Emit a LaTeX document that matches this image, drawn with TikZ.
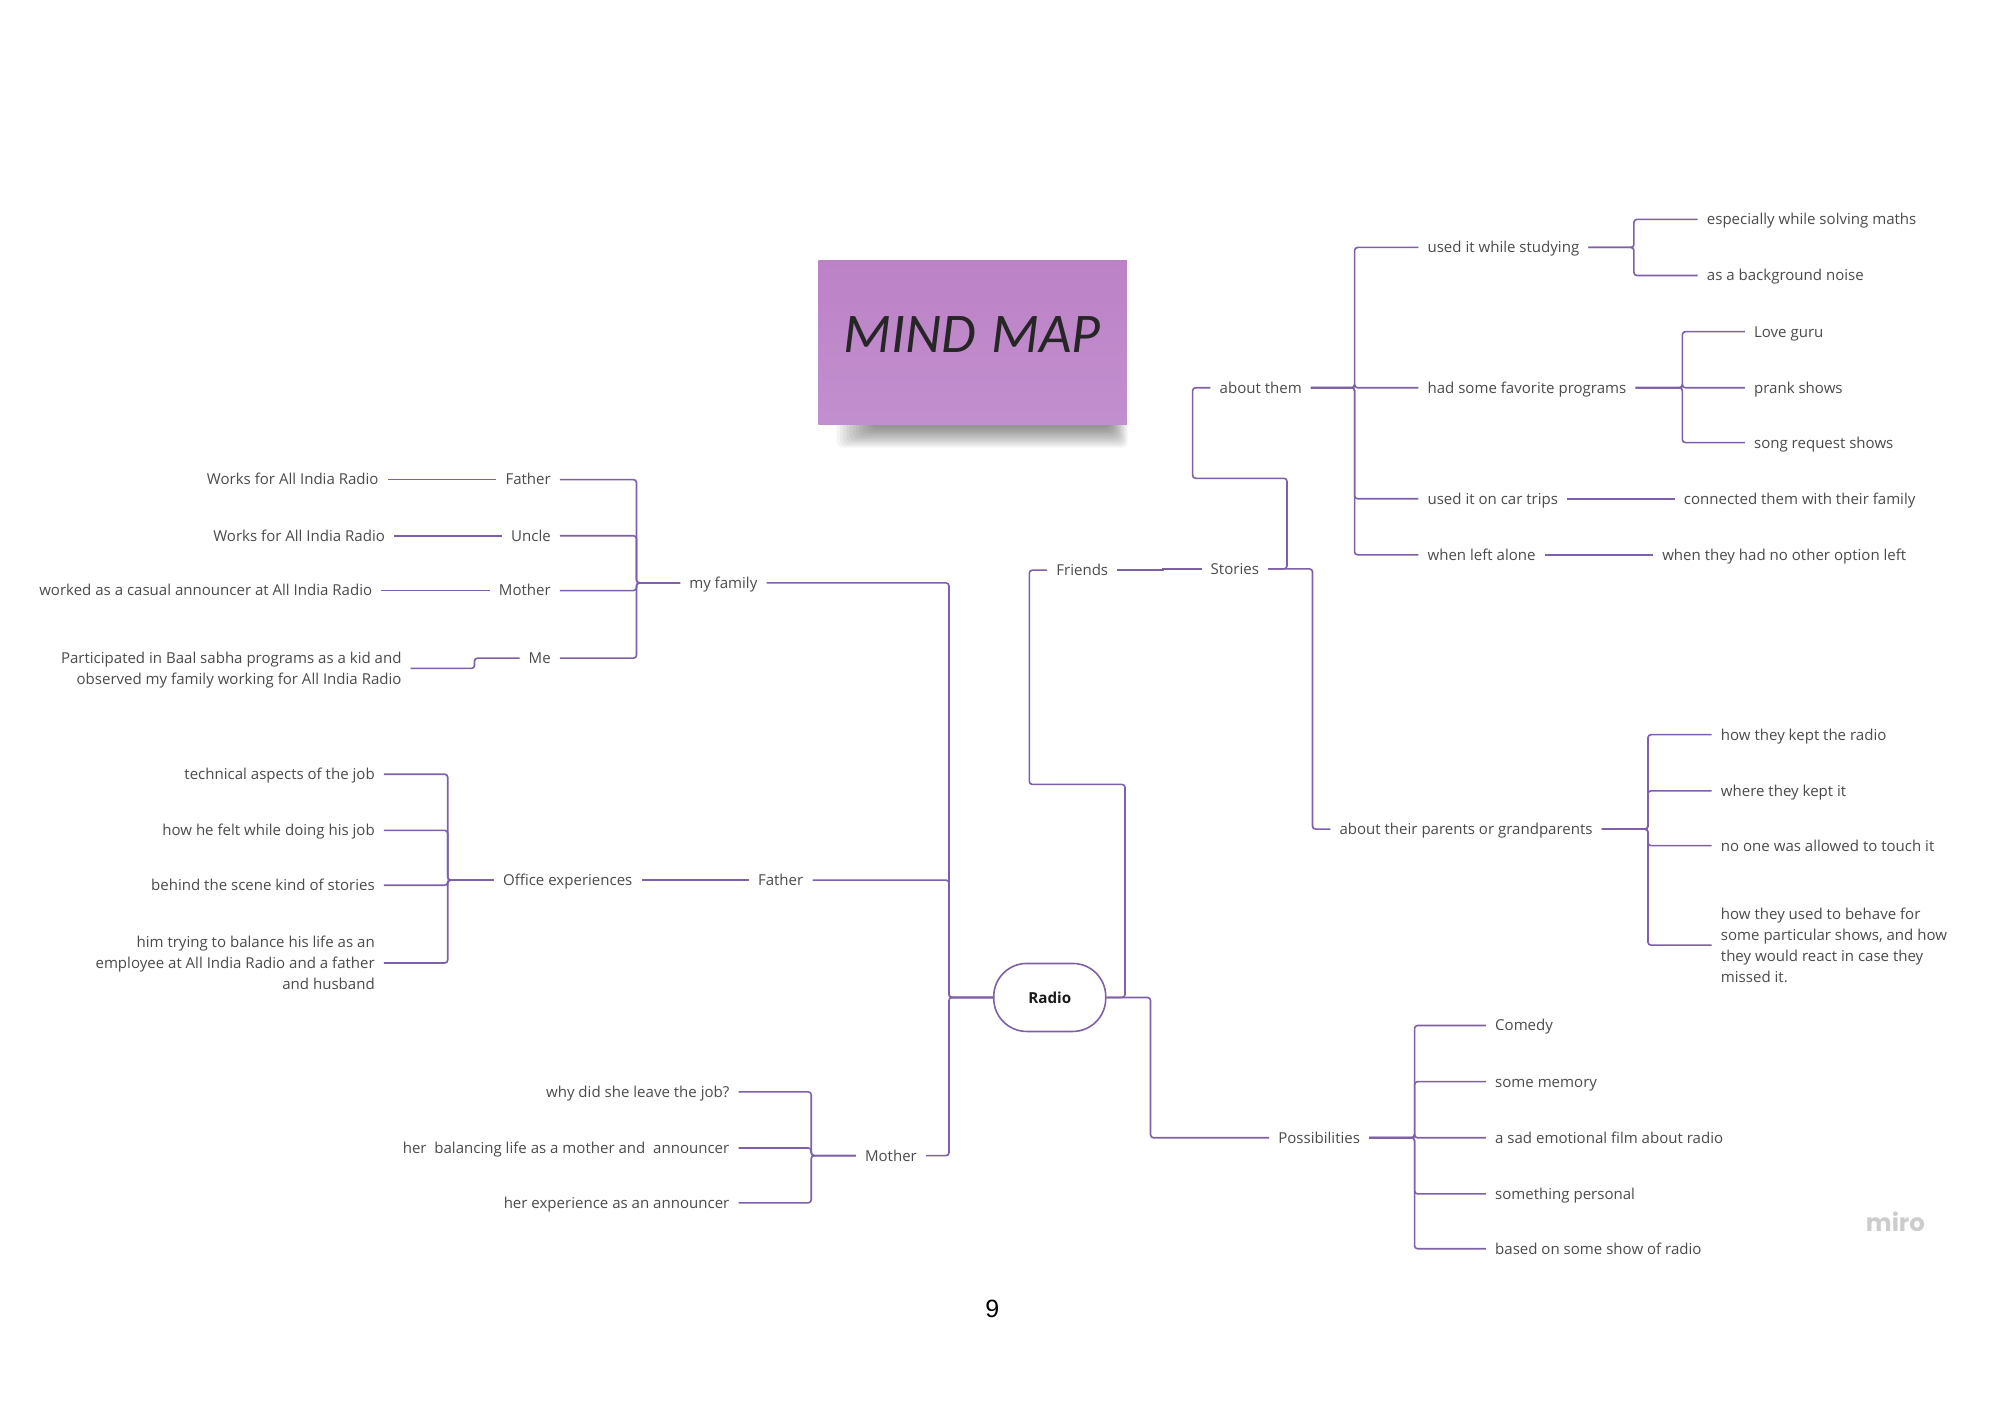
\documentclass[tikz,border=0pt]{standalone}
\usepackage{fontspec}
\setmainfont{Open Sans}
\newfontfamily\pagefont{Liberation Sans}
\newfontfamily\logofont{Poppins}
\newfontfamily\notefont{Carlito}
\definecolor{linkcol}{HTML}{7E60A8}
\definecolor{textcol}{HTML}{4A4A4A}
\definecolor{notetop}{HTML}{BC82C6}
\definecolor{notebot}{HTML}{C28FCE}
\tikzset{
  rgt/.style={anchor=west,inner xsep=4.4pt,inner ysep=1pt,text=textcol,font=\fontsize{7.52}{10.5}\selectfont,text height=7pt,text depth=1.6pt},
  lft/.style={rgt,anchor=east},
  rgtblock/.style={anchor=west,inner xsep=4.4pt,inner ysep=1pt,text=textcol,font=\fontsize{7.52}{10.6}\selectfont,align=left},
  lftblock/.style={rgtblock,anchor=east,align=right},
  link/.style={draw=linkcol,line width=0.8pt,rounded corners=1.5pt}
}
\begin{document}
\begin{tikzpicture}[x=0.63776pt,y=-0.63776pt]
  \useasboundingbox (0,0) rectangle (1568,1110.2);

  \foreach \i in {0,...,11}
    \fill[black,opacity=0.045,rounded corners=3pt] ({656+\i*2.5},325) rectangle ({884-\i*1.2},{351-\i*1.4});
  \node (note) at (762.5,268.5) [minimum width=154.3pt,minimum height=82.3pt,inner sep=0pt,top color=notetop,bottom color=notebot] {};
  \node (title) at (762,262) [text=black!85,font=\notefont\itshape\fontsize{28}{28}\selectfont] {MIND\hspace{0.28em}MAP};

  \node (radio) at (823,782) [draw=linkcol,line width=0.8pt,minimum width=56pt,minimum height=34pt,rounded corners=16.5pt,font=\bfseries\fontsize{7.6}{10}\selectfont,text=black!90] {Radio};

  \node (fam) at (601,457) [lft] {my family};
  \node (dad) at (637,690) [lft] {Father};
  \node (mum) at (726,906) [lft] {Mother};
  \node (fa) at (439,376) [lft] {Father};
  \node (un) at (439,420) [lft] {Uncle};
  \node (mo) at (439,463) [lft] {Mother};
  \node (me) at (439,516) [lft] {Me};
  \node (fa1) at (304,376) [lft] {Works for All India Radio};
  \node (un1) at (309,420) [lft] {Works for All India Radio};
  \node (mo1) at (299,463) [lft] {worked as a casual announcer at All India Radio};
  \node (me1) at (322,525.5) [lftblock] {Participated in Baal sabha programs as a kid and\\observed my family working for All India Radio};
  \node (off) at (503,690) [lft] {Office experiences};
  \node (off1) at (301,607) [lft] {technical aspects of the job};
  \node (off2) at (301,651) [lft] {how he felt while doing his job};
  \node (off3) at (301,694) [lft] {behind the scene kind of stories};
  \node (off4) at (301,755) [lftblock] {him trying to balance his life as an\\employee at All India Radio and a father\\and husband};
  \node (mum1) at (579,856) [lft] {why did she leave the job?};
  \node (mum2) at (579,900) [lft] {her\ \ balancing life as a mother and\ \ announcer};
  \node (mum3) at (579,943) [lft] {her experience as an announcer};

  \node (fri) at (821,447) [rgt] {Friends};
  \node (sto) at (942,446) [rgt] {Stories};
  \node (abt) at (949,304) [rgt] {about them};
  \node (par) at (1043,650) [rgt] {about their parents or grandparents};
  \node (abt1) at (1112,194) [rgt] {used it while studying};
  \node (abt2) at (1112,304) [rgt] {had some favorite programs};
  \node (abt3) at (1112,391) [rgt] {used it on car trips};
  \node (abt4) at (1112,435) [rgt] {when left alone};
  \node (stu1) at (1331,172) [rgt] {especially while solving maths};
  \node (stu2) at (1331,216) [rgt] {as a background noise};
  \node (pro1) at (1368,260) [rgt] {Love guru};
  \node (pro2) at (1368,304) [rgt] {prank shows};
  \node (pro3) at (1368,347) [rgt] {song request shows};
  \node (car1) at (1313,391) [rgt] {connected them with their family};
  \node (alo1) at (1296,435) [rgt] {when they had no other option left};
  \node (par1) at (1342,576) [rgt] {how they kept the radio};
  \node (par2) at (1342,620) [rgt] {where they kept it};
  \node (par3) at (1342,663) [rgt] {no one was allowed to touch it};
  \node (par4) at (1342,741) [rgtblock] {how they used to behave for\\some particular shows, and how\\they would react in case they\\missed it.};
  \node (pos) at (995,892) [rgt] {Possibilities};
  \node (pos1) at (1165,804) [rgt] {Comedy};
  \node (pos2) at (1165,848) [rgt] {some memory};
  \node (pos3) at (1165,892) [rgt] {a sad emotional film about radio};
  \node (pos4) at (1165,936) [rgt] {something personal};
  \node (pos5) at (1165,979) [rgt] {based on some show of radio};

  \node (miro) at (1486,958) [text=black!20,font=\logofont\bfseries\fontsize{12.2}{13}\selectfont] {miro};
  \node (page) at (778,1026) [text=black,font=\pagefont\fontsize{12.5}{14}\selectfont] {9};

  \coordinate (b1) at (744,782);
  \coordinate (b2) at (499,457);
  \coordinate (b3) at (351,690);
  \coordinate (b4) at (636,906);
  \coordinate (b5) at (1062,304);
  \coordinate (b6) at (1281,194);
  \coordinate (b7) at (1319,304);
  \coordinate (b8) at (1292,650);
  \coordinate (b9) at (1109,892);
  \coordinate (r1) at (882,782);
  \coordinate (r2) at (882,615);
  \coordinate (r3) at (807,615);
  \coordinate (r4) at (807,447);
  \coordinate (r5) at (902,782);
  \coordinate (s1) at (1009,446);
  \coordinate (s2) at (1009,375);
  \coordinate (s3) at (935,375);
  \coordinate (s4) at (935,304);
  \coordinate (s5) at (1029,446);
  \coordinate (j1) at (372,524);
  \coordinate (j2) at (912,446);

  \foreach \from/\via/\to in {radio.west/b1/fam.east, radio.west/b1/dad.east, radio.west/b1/mum.east,
    fam.west/b2/fa.east, fam.west/b2/un.east, fam.west/b2/mo.east, fam.west/b2/me.east,
    off.west/b3/off1.east, off.west/b3/off2.east, off.west/b3/off3.east, off.west/b3/off4.east,
    mum.west/b4/mum1.east, mum.west/b4/mum2.east, mum.west/b4/mum3.east,
    abt.east/b5/abt1.west, abt.east/b5/abt2.west, abt.east/b5/abt3.west, abt.east/b5/abt4.west,
    abt1.east/b6/stu1.west, abt1.east/b6/stu2.west,
    abt2.east/b7/pro1.west, abt2.east/b7/pro2.west, abt2.east/b7/pro3.west,
    par.east/b8/par1.west, par.east/b8/par2.west, par.east/b8/par3.west, par.east/b8/par4.west,
    pos.east/b9/pos1.west, pos.east/b9/pos2.west, pos.east/b9/pos3.west, pos.east/b9/pos4.west, pos.east/b9/pos5.west}
    \draw[link] (\from) -- (\via) |- (\to);
  \foreach \from/\to in {fa.west/fa1.east, un.west/un1.east, mo.west/mo1.east, dad.west/off.east,
    abt3.east/car1.west, abt4.east/alo1.west}
    \draw[link] (\from) -- (\to);
  \draw[link,sharp corners] (fri.east) -| (j2) -- (sto.west);
  \draw[link] (me.west) -| (j1) -- (j1 -| me1.east);
  \draw[link] (radio.east) -- (r1) -- (r2) -- (r3) -- (r4) -- (fri.west);
  \draw[link] (radio.east) -- (r5) |- (pos.west);
  \draw[link] (sto.east) -- (s1) -- (s2) -- (s3) -- (s4) -- (abt.west);
  \draw[link] (sto.east) -- (s5) |- (par.west);
\end{tikzpicture}
\end{document}
